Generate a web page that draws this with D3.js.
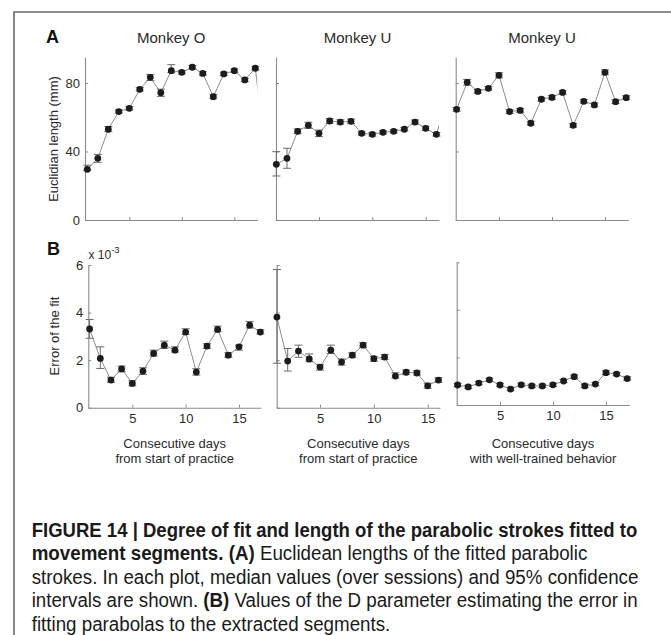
<!DOCTYPE html>
<html><head><meta charset="utf-8">
<script src="https://cdn.jsdelivr.net/npm/d3@7"></script>
<style>body{margin:0;background:#fff}svg{display:block;font-family:"Liberation Sans",Arial,Helvetica,sans-serif}</style>
</head><body>
<svg id="c" width="671" height="635"></svg>
<script>
// ---------------- DATA ----------------
const titles = ["Monkey O", "Monkey U", "Monkey U"];
const xLabelLine1 = ["Consecutive days", "Consecutive days", "Consecutive days"];
const xLabelLine2 = ["from start of practice", "from start of practice", "with well-trained behavior"];
const lenTicks = [0, 40, 80];
const errTicks = [0, 2, 4, 6];
const dayTicks = [5, 10, 15];
const yLabelA = "Euclidian length (mm)";
const yLabelB = "Error of the fit";
const errExponent = "-3";

// Row A: Euclidian length (mm), median and 95% CI bounds
const lenO    = [29.6, 36.0, 53.0, 63.3, 65.2, 76.3, 83.3, 74.3, 87.2, 86.2, 89.2, 85.6, 72.0, 85.3, 87.2, 81.8, 88.6, 39.0];
const lenO_lo = [29.0, 33.7, 51.6, 62.4, 64.2, 75.3, 81.5, 72.2, 86.0, 85.2, 88.2, 84.6, 70.8, 84.3, 86.2, 80.8, 87.6, 39.0];
const lenO_hi = [32.0, 38.3, 54.6, 64.2, 66.2, 77.3, 85.0, 76.4, 90.7, 87.2, 90.2, 86.6, 73.2, 86.3, 88.2, 82.8, 89.6, 39.0];

const lenU1    = [32.5, 36.0, 51.8, 55.3, 50.6, 57.8, 57.2, 57.6, 50.6, 50.0, 51.2, 51.8, 53.0, 57.2, 53.5, 50.0, 70.0];
const lenU1_lo = [25.7, 30.2, 50.4, 53.5, 48.7, 56.4, 55.9, 56.3, 49.6, 49.0, 50.2, 50.8, 52.0, 56.0, 52.3, 49.0, 70.0];
const lenU1_hi = [39.9, 41.9, 53.2, 57.1, 52.5, 59.2, 58.5, 58.9, 51.6, 51.0, 52.2, 52.8, 54.0, 58.4, 54.7, 51.0, 70.0];

const lenU2    = [64.6, 80.4, 75.1, 76.9, 84.5, 63.3, 64.0, 56.5, 70.5, 71.6, 74.5, 55.3, 69.3, 67.2, 86.2, 69.1, 71.4];
const lenU2_lo = [63.5, 78.7, 74.0, 75.8, 83.0, 62.2, 62.9, 55.4, 69.4, 70.5, 73.4, 54.2, 68.2, 66.1, 84.8, 68.0, 70.3];
const lenU2_hi = [65.7, 82.1, 76.2, 78.0, 86.0, 64.4, 65.1, 57.6, 71.6, 72.7, 75.6, 56.4, 70.4, 68.3, 87.6, 70.2, 72.5];

// Row B: error of the fit (x 10^-3), median and 95% CI bounds
const errO    = [3.31, 2.07, 1.16, 1.63, 1.02, 1.54, 2.28, 2.63, 2.42, 3.18, 1.50, 2.59, 3.29, 2.21, 2.56, 3.47, 3.18];
const errO_lo = [2.92, 1.65, 1.07, 1.51, 0.92, 1.40, 2.17, 2.49, 2.34, 3.08, 1.37, 2.49, 3.19, 2.12, 2.42, 3.35, 3.10];
const errO_hi = [3.71, 2.56, 1.28, 1.75, 1.13, 1.68, 2.42, 2.80, 2.56, 3.32, 1.64, 2.69, 3.43, 2.31, 2.63, 3.62, 3.28];

const errU1    = [3.81, 1.96, 2.38, 2.05, 1.71, 2.42, 1.92, 2.21, 2.63, 2.06, 2.13, 1.33, 1.49, 1.46, 0.92, 1.16];
const errU1_lo = [1.87, 1.54, 2.12, 1.93, 1.58, 2.28, 1.79, 2.12, 2.54, 1.95, 2.03, 1.25, 1.39, 1.37, 0.82, 1.07];
const errU1_hi = [5.81, 2.49, 2.63, 2.26, 1.81, 2.63, 2.05, 2.31, 2.73, 2.16, 2.24, 1.47, 1.58, 1.55, 1.03, 1.26];

const errU2    = [0.84, 0.76, 0.92, 1.06, 0.84, 0.67, 0.85, 0.80, 0.80, 0.85, 1.01, 1.19, 0.80, 0.88, 1.36, 1.30, 1.11];
const errU2_lo = [0.77, 0.69, 0.85, 0.99, 0.77, 0.60, 0.78, 0.73, 0.73, 0.78, 0.94, 1.12, 0.73, 0.81, 1.28, 1.23, 1.04];
const errU2_hi = [0.91, 0.83, 0.99, 1.13, 0.91, 0.74, 0.92, 0.87, 0.87, 0.92, 1.08, 1.26, 0.87, 0.95, 1.44, 1.37, 1.18];

const captionLines = [
  [["FIGURE 14 | Degree of fit and length of the parabolic strokes fitted to", true]],
  [["movement segments. (A)", true], [" Euclidean lengths of the fitted parabolic", false]],
  [["strokes. In each plot, median values (over sessions) and 95% confidence", false]],
  [["intervals are shown. ", false], ["(B)", true], [" Values of the D parameter estimating the error in", false]],
  [["fitting parabolas to the extracted segments.", false]]
];

// ---------------- LAYOUT ----------------
const svg = d3.select("#c");
const AXIS = "#8a8a8a", LINE = "#8c8c8c", BAR = "#6a6a6a", DOT = "#1c1c1c", TXT = "#2a2a2a";

// frame
svg.append("path").attr("d", "M14,635V12H671").attr("fill", "none").attr("stroke", "#6a6a6a").attr("stroke-width", 1.6);

const panels = [
  {row: "A", col: 0, v: lenO,  lo: lenO_lo,  hi: lenO_hi,  x5: 129.3, x15: 234.3, xs: 85,    xe: 257.3, dy: 0},
  {row: "A", col: 1, v: lenU1, lo: lenU1_lo, hi: lenU1_hi, x5: 319.0, x15: 425.7, xs: 276,   xe: 439,   dy: 0},
  {row: "A", col: 2, v: lenU2, lo: lenU2_lo, hi: lenU2_hi, x5: 499.0, x15: 605.0, xs: 455.7, xe: 628.3, dy: 0},
  {row: "B", col: 0, v: errO,  lo: errO_lo,  hi: errO_hi,  x5: 132.3, x15: 239.0, xs: 88.3,  xe: 261,   dy: 0},
  {row: "B", col: 1, v: errU1, lo: errU1_lo, hi: errU1_hi, x5: 320.0, x15: 427.7, xs: 276.7, xe: 440,   dy: 0},
  {row: "B", col: 2, v: errU2, lo: errU2_lo, hi: errU2_hi, x5: 500.0, x15: 606.0, xs: 456.7, xe: 629.3, dy: -2.7}
];

panels.forEach((p, i) => {
  const g = svg.append("g");
  const x0 = d3.scaleLinear().domain([5, 15]).range([p.x5, p.x15]);
  const x = d3.scaleLinear().domain([x0.invert(p.xs), x0.invert(p.xe)]).range([p.xs, p.xe]);
  let y, ticks;
  if (p.row === "A") {
    y = d3.scaleLinear().domain([0, 95]).range([220, 57.3]);
    ticks = lenTicks;
  } else {
    y = d3.scaleLinear().domain([0, 6]).range([407.7 + p.dy, 265 + p.dy]);
    ticks = errTicks;
  }
  const days = p.v.map((d, k) => k + 1);
  const dmax = x.domain()[1];

  // axes
  const ya = d3.axisLeft(y).tickValues(ticks).tickSizeInner(-3).tickSizeOuter(0).tickPadding(5)
    .tickFormat(p.col === 0 ? d3.format("d") : () => "");
  const yg = g.append("g").attr("transform", `translate(${p.xs},0)`).call(ya);
  const xa = d3.axisBottom(x).tickValues(dayTicks).tickSizeInner(-3).tickSizeOuter(0).tickPadding(6)
    .tickFormat(p.row === "B" ? d3.format("d") : () => "");
  const xg = g.append("g").attr("transform", `translate(0,${y(0)})`).call(xa);
  [yg, xg].forEach(a => {
    a.select(".domain").attr("stroke", AXIS).attr("stroke-width", 1.1);
    a.selectAll(".tick line").attr("stroke", AXIS);
    a.selectAll(".tick text").attr("fill", TXT).attr("font-size", 13)
      .attr("font-family", '"Liberation Sans",Arial,sans-serif');
  });

  // clipped connecting line
  const cid = "clip" + i;
  svg.append("clipPath").attr("id", cid).append("rect")
    .attr("x", p.xs - 12).attr("y", 0).attr("width", p.xe - p.xs + 12).attr("height", 635);
  g.append("path")
    .datum(days.map((d, k) => [d, p.v[k]]))
    .attr("clip-path", `url(#${cid})`)
    .attr("fill", "none").attr("stroke", LINE).attr("stroke-width", 1)
    .attr("d", d3.line().x(d => x(d[0])).y(d => y(d[1])));

  const inDays = days.filter(d => d <= dmax);
  // error bars
  const eb = g.append("g").attr("stroke", BAR).attr("stroke-width", 1).attr("fill", "none");
  inDays.forEach(d => {
    const k = d - 1, cx = x(d);
    eb.append("line").attr("x1", cx).attr("x2", cx).attr("y1", y(p.lo[k])).attr("y2", y(p.hi[k]));
    eb.append("line").attr("x1", cx - 4).attr("x2", cx + 4).attr("y1", y(p.lo[k])).attr("y2", y(p.lo[k]));
    eb.append("line").attr("x1", cx - 4).attr("x2", cx + 4).attr("y1", y(p.hi[k])).attr("y2", y(p.hi[k]));
  });
  // dots
  g.append("g").selectAll("circle").data(inDays).join("circle")
    .attr("cx", d => x(d)).attr("cy", d => y(p.v[d - 1])).attr("r", 3.4).attr("fill", DOT);

  const cx = (p.xs + p.xe) / 2;
  if (p.row === "A") {
    svg.append("text").attr("x", cx).attr("y", 43).attr("text-anchor", "middle")
      .attr("font-size", 15).attr("fill", TXT).text(titles[p.col]);
  } else {
    svg.append("text").attr("x", cx).attr("y", 447.7).attr("text-anchor", "middle")
      .attr("font-size", 13).attr("fill", TXT).text(xLabelLine1[p.col]);
    svg.append("text").attr("x", cx).attr("y", 463).attr("text-anchor", "middle")
      .attr("font-size", 13).attr("fill", TXT).text(xLabelLine2[p.col]);
  }
});

// panel letters and y labels
svg.append("text").attr("x", 46).attr("y", 43).attr("font-size", 18).attr("font-weight", "bold").attr("fill", "#111").text("A");
svg.append("text").attr("x", 47).attr("y", 255).attr("font-size", 18).attr("font-weight", "bold").attr("fill", "#111").text("B");
svg.append("text").attr("transform", "translate(57.5,139) rotate(-90)").attr("text-anchor", "middle")
  .attr("font-size", 13).attr("fill", TXT).text(yLabelA);
svg.append("text").attr("transform", "translate(59,336) rotate(-90)").attr("text-anchor", "middle")
  .attr("font-size", 13).attr("fill", TXT).text(yLabelB);
const ex = svg.append("text").attr("x", 88.5).attr("y", 258.5).attr("font-size", 12).attr("fill", TXT);
ex.append("tspan").text("x 10");
ex.append("tspan").attr("dy", -6).attr("font-size", 9.5).text(errExponent);

// caption
const capX = 31.7, capBase = [536.5, 560, 583.5, 607, 630.5];
const lineNodes = captionLines.map((segs, li) => {
  const g = svg.append("g");
  const t = g.append("text").attr("font-size", 19.5).attr("fill", "#1a1a1a").style("white-space", "pre");
  segs.forEach(([s, b]) => t.append("tspan").attr("font-weight", b ? "bold" : "normal").text(s));
  return {g, t, w: t.node().getComputedTextLength()};
});
const kReg = 607 / lineNodes[2].w;
const targets = [606, null, 607, 606, null];
lineNodes.forEach((ln, li) => {
  const k = targets[li] ? targets[li] / ln.w : kReg;
  ln.g.attr("transform", `translate(${capX},${capBase[li]}) scale(${k},1)`);
});
</script>
</body></html>
